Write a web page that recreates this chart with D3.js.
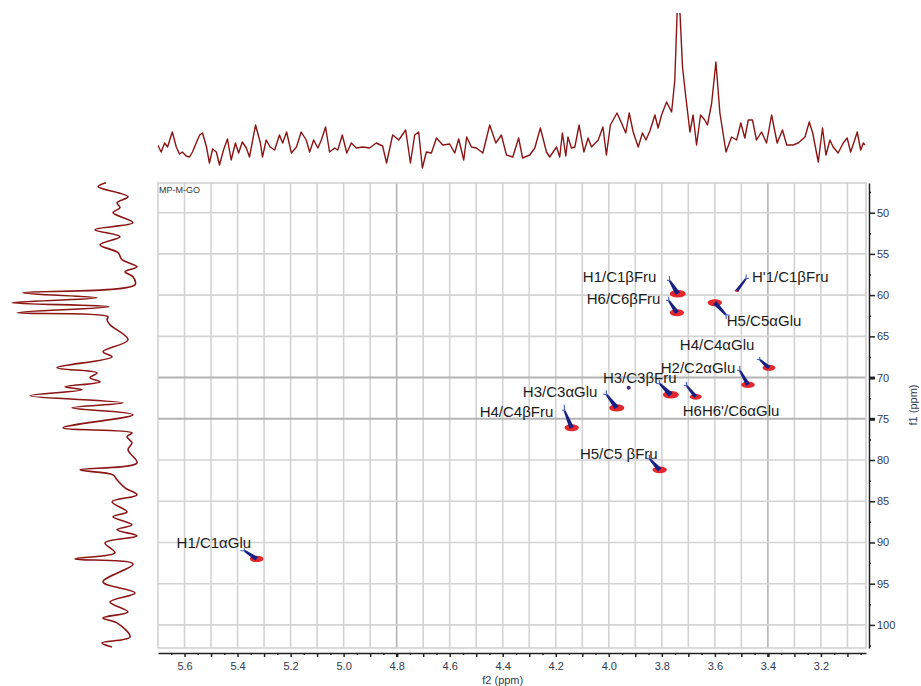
<!DOCTYPE html>
<html>
<head>
<meta charset="utf-8">
<script src="https://cdn.jsdelivr.net/npm/d3@7/dist/d3.min.js"></script>
<style>
  body { margin: 0; background: #fff; }
</style>
</head>
<body>
<div id="chart"></div>
<script>
// ---------------------------------------------------------------------------
// DATA
// ---------------------------------------------------------------------------
const sampleName = 'MP-M-GO';

const f2Labels = [5.6, 5.4, 5.2, 5.0, 4.8, 4.6, 4.4, 4.2, 4.0, 3.8, 3.6, 3.4, 3.2];
const f1Labels = [50, 55, 60, 65, 70, 75, 80, 85, 90, 95, 100];

// 1H projection (top trace): chemical shift (ppm) / intensity
const topPpm = [5.701,5.688,5.675,5.664,5.646,5.631,5.619,5.608,5.594,5.581,5.570,5.556,5.543,5.532,5.517,5.506,5.494,5.480,5.468,5.453,
  5.438,5.424,5.408,5.396,5.382,5.367,5.355,5.332,5.314,5.306,5.292,5.277,5.260,5.242,5.230,5.215,5.197,5.178,5.160,5.141,
  5.128,5.113,5.097,5.084,5.068,5.053,5.034,5.022,5.005,4.988,4.971,4.952,4.928,4.902,4.877,4.853,4.838,4.815,4.792,4.766,
  4.748,4.732,4.717,4.703,4.688,4.669,4.650,4.626,4.600,4.581,4.566,4.547,4.536,4.518,4.499,4.475,4.449,4.426,4.405,4.386,
  4.362,4.340,4.325,4.298,4.279,4.258,4.235,
  4.223,4.197,4.185,4.175,4.162,4.154,4.141,4.128,4.112,4.094,4.078,4.065,4.040,4.022,4.009,3.994,3.969,3.952,3.936,3.923,
  3.908,3.889,3.873,3.860,3.845,3.826,3.814,3.801,3.782,3.763,3.751,3.742,3.732,3.722,3.709,3.694,3.682,3.669,3.654,3.638,
  3.628,3.612,3.596,3.581,3.558,3.537,3.518,3.502,3.487,3.474,3.458,3.443,3.424,3.405,3.386,3.365,3.345,3.329,3.305,3.286,
  3.260,3.244,3.231,3.210,3.194,3.181,3.166,3.154,3.135,3.116,3.101,3.088,3.075,3.063,3.050,3.040,3.034];
const topInt = [5,-2,7,3,18,3,-4,-2,-6,-7,-2,7,15,17,3,-13,1,-2,-15,0,
  11,-10,7,-3,8,2,-7,25,7,-7,10,3,0,15,7,18,-3,3,18,10,
  -2,10,2,10,23,-2,2,0,15,-3,7,2,3,2,7,4,-13,15,10,20,
  -13,15,18,-18,-2,-3,12,5,6,-3,11,-10,13,3,2,-3,25,7,15,-5,
  -7,12,-8,-5,2,22,-2,
  -7,3,-7,17,-6,13,2,3,25,-2,12,3,10,23,-5,25,37,27,17,37,
  18,3,17,10,19,35,22,35,48,38,70,140,140,83,52,18,35,5,35,30,
  25,47,88,37,-2,13,10,27,12,30,30,10,18,7,35,7,20,5,5,7,
  13,28,17,-12,22,-5,10,3,-3,7,12,-2,8,18,0,7,5];

// 13C projection (left trace): chemical shift (ppm) / intensity
const leftPpm = [46.36,46.84,48.06,48.79,49.39,50.00,51.21,52.06,52.91,53.88,54.85,55.70,56.55,57.16,57.77,58.74,
  59.71,60.32,60.92,61.41,62.14,62.62,62.99,63.59,65.41,66.87,67.48,68.81,69.42,70.02,70.51,71.12,71.48,72.21,
  73.06,73.67,74.51,76.09,76.70,77.18,77.91,78.76,80.34,81.19,81.80,82.40,83.37,84.22,85.07,86.29,86.89,87.86,
  88.47,89.20,90.05,91.26,91.99,92.60,94.78,96.12,97.21,98.42,99.15,99.76,101.46,102.18,102.67];
const leftInt = [31,39,9,20,17,24,4,42,17,37,19,15,0,12,4,2,
  114,40,125,28,120,29,30,27,9,34,25,80,40,47,37,72,55,107,
  14,65,4,74,5,10,5,9,0,57,24,20,12,0,25,10,24,5,
  20,0,32,22,62,4,34,2,27,9,34,20,7,35,25];

// HSQC cross peaks: 1H shift, 13C shift, relative volume
const peakH   = [3.740, 3.743, 3.517, 3.600, 3.396, 3.475, 3.766, 3.672, 3.925, 3.970, 4.140, 3.808, 5.328];
const peakC   = [59.83, 62.14, 59.47, 60.92, 68.81, 70.87, 72.09, 72.33, 71.24, 73.67, 76.09, 81.19, 91.99];
const peakVol = [1.0,   0.9,   0.3,   0.9,   0.8,   0.85,  1.0,   0.75,  0.25,  0.95,  0.9,   0.9,   0.85];

// assignments, placed at (1H, 13C) of the text start
const labelText = ['H1/C1βFru', "H'1/C1βFru", 'H6/C6βFru', 'H5/C5αGlu', 'H4/C4αGlu', 'H2/C2αGlu',
  'H3/C3βFru', 'H3/C3αGlu', "H6H6'/C6αGlu", 'H4/C4βFru', 'H5/C5 βFru', 'H1/C1αGlu'];
const labelH = [4.098, 3.460, 4.083, 3.555, 3.732, 3.804, 4.022, 4.324, 3.721, 4.487, 4.109, 5.630];
const labelC = [58.40, 58.40, 61.10, 63.70, 66.70, 69.45, 70.60, 72.30, 74.70, 74.75, 79.85, 90.70];

// ---------------------------------------------------------------------------
// LAYOUT / STYLE
// ---------------------------------------------------------------------------
const svgWidth = 921, svgHeight = 686;
const plot = { left: 158, right: 866, top: 183, bottom: 648 };
const axisColor = '#2f3a4f';
const gridColor = '#d3d3d3';
const cursorColor = '#b4b4b4';
const traceColor = '#8b1414';
const redColor = '#e3161b';
const blueColor = '#172083';

// blue contour tails (px vector from peak centre)
const tailVec = [[-8,-13],[-8,-12],[9,-12],[11,12],[-9,-8],[-8,-14],[-11,-11],[-9,-11],[0,0],[-10,-13],[-7,-17],[-10,-11],[-12,-8]];

const svg = d3.select('#chart').append('svg')
  .attr('width', svgWidth)
  .attr('height', svgHeight)
  .style('font-family', '"Liberation Sans", Arial, sans-serif');

const xScale = d3.scaleLinear().domain([5.70, 3.03]).range([plot.left, plot.right]);
const yScale = d3.scaleLinear().domain([46.4, 102.8]).range([plot.top, plot.bottom]);
const topScale = d3.scaleLinear().domain([0, 137]).range([150, 13]);
const leftScale = d3.scaleLinear().domain([0, 125]).range([137, 12]);

// ---------------------------------------------------------------------------
// GRID
// ---------------------------------------------------------------------------
const gridX = d3.range(56, 30, -1).map(d => d / 10);
const gridY = f1Labels;
const isCursorX = d => Math.abs(d - 4.8) < 1e-6 || Math.abs(d - 3.4) < 1e-6;
const isCursorY = d => d === 70 || d === 75;

const grid = svg.append('g').attr('class', 'grid');
grid.selectAll('.gx').data(gridX).enter().append('line')
  .attr('x1', d => xScale(d)).attr('x2', d => xScale(d))
  .attr('y1', plot.top).attr('y2', plot.bottom)
  .attr('stroke', d => isCursorX(d) ? cursorColor : gridColor)
  .attr('stroke-width', 1.6);
grid.selectAll('.gy').data(gridY).enter().append('line')
  .attr('x1', plot.left).attr('x2', plot.right)
  .attr('y1', d => yScale(d)).attr('y2', d => yScale(d))
  .attr('stroke', d => isCursorY(d) ? cursorColor : gridColor)
  .attr('stroke-width', d => isCursorY(d) ? 2 : 1.6);

svg.append('rect')
  .attr('x', plot.left).attr('y', plot.top)
  .attr('width', plot.right - plot.left).attr('height', plot.bottom - plot.top)
  .attr('fill', 'none').attr('stroke', '#cfcfcf').attr('stroke-width', 1.5);

svg.append('text')
  .attr('x', plot.left + 1).attr('y', plot.top + 10)
  .attr('font-size', 9).attr('fill', '#333')
  .text(sampleName);

// ---------------------------------------------------------------------------
// AXES
// ---------------------------------------------------------------------------
const fmtX = d => f2Labels.some(v => Math.abs(v - d) < 1e-6) ? d.toFixed(1) : '';
const xAxisG = svg.append('g').attr('transform', `translate(0,${plot.bottom + 5})`);
xAxisG.call(d3.axisBottom(xScale).tickValues(gridX).tickSize(4).tickSizeOuter(0).tickFormat(fmtX));
const xMinor = svg.append('g').attr('transform', `translate(0,${plot.bottom + 5})`);
xMinor.call(d3.axisBottom(xScale).tickValues(d3.range(565, 300, -10).map(d => d / 100)).tickSize(2).tickFormat(''));
xMinor.select('.domain').remove();

const yAxisG = svg.append('g').attr('transform', `translate(${plot.right + 3},0)`);
yAxisG.call(d3.axisRight(yScale).tickValues(gridY).tickSize(6).tickSizeOuter(0).tickFormat(d3.format('d')));
const yMinor = svg.append('g').attr('transform', `translate(${plot.right + 3},0)`);
yMinor.call(d3.axisRight(yScale).tickValues(d3.range(47.5, 103, 5)).tickSize(2).tickFormat(''));
yMinor.select('.domain').remove();

[xAxisG, yAxisG, xMinor, yMinor].forEach(g => {
  g.selectAll('.domain').attr('stroke', '#222').attr('stroke-width', 1.5);
  g.selectAll('.tick line').attr('stroke', '#222').attr('stroke-width', 1.5);
  g.selectAll('.tick text').attr('fill', axisColor).attr('font-size', 11)
    .attr('font-family', '"Liberation Sans", Arial, sans-serif');
});
xAxisG.selectAll('.tick text').attr('dy', '0.95em');
yAxisG.selectAll('.tick text').attr('x', 8);
xAxisG.selectAll('.tick line').filter(isCursorX).attr('stroke-width', 2.5);
yAxisG.selectAll('.tick line').filter(isCursorY).attr('stroke-width', 3);

svg.append('text')
  .attr('x', xScale(4.4)).attr('y', 684)
  .attr('text-anchor', 'middle').attr('font-size', 11).attr('fill', axisColor)
  .text('f2 (ppm)');
svg.append('text')
  .attr('transform', `translate(917,405) rotate(-90)`)
  .attr('text-anchor', 'middle').attr('font-size', 11).attr('fill', axisColor)
  .text('f1 (ppm)');

// ---------------------------------------------------------------------------
// 1D PROJECTIONS
// ---------------------------------------------------------------------------
svg.append('clipPath').attr('id', 'topClip')
  .append('rect').attr('x', plot.left).attr('y', 13).attr('width', plot.right - plot.left).attr('height', 160);

const topLine = d3.line()
  .x(i => xScale(topPpm[i]))
  .y(i => topScale(topInt[i]));
svg.append('path')
  .attr('clip-path', 'url(#topClip)')
  .attr('d', topLine(d3.range(topPpm.length)))
  .attr('fill', 'none').attr('stroke', traceColor).attr('stroke-width', 1.4)
  .attr('stroke-linejoin', 'round');

const leftLine = d3.line()
  .x(i => leftScale(leftInt[i]))
  .y(i => yScale(leftPpm[i]))
  .curve(d3.curveCatmullRom.alpha(0.5));
svg.append('path')
  .attr('d', leftLine(d3.range(leftPpm.length)))
  .attr('fill', 'none').attr('stroke', traceColor).attr('stroke-width', 1.6)
  .attr('stroke-linejoin', 'round');

// ---------------------------------------------------------------------------
// CROSS PEAKS
// ---------------------------------------------------------------------------
const peaks = svg.append('g').attr('class', 'peaks');
const peakIdx = d3.range(peakH.length);

peaks.selectAll('.blob').data(peakIdx.filter(i => peakVol[i] > 0.28)).enter().append('ellipse')
  .attr('cx', i => xScale(peakH[i]))
  .attr('cy', i => yScale(peakC[i]))
  .attr('rx', i => 8 * peakVol[i])
  .attr('ry', i => 3.8 * peakVol[i])
  .attr('fill', redColor)
  .attr('opacity', 0.92);

peaks.selectAll('.tail').data(peakIdx).enter().append('path')
  .attr('d', i => {
    const cx = xScale(peakH[i]), cy = yScale(peakC[i]);
    const [dx, dy] = tailVec[i];
    const len = Math.hypot(dx, dy);
    if (len === 0) return `M${cx - 2},${cy}a2,2 0 1,0 4,0a2,2 0 1,0 -4,0`;
    const nx = -dy / len, ny = dx / len;
    const w = 2.6 * Math.max(peakVol[i], 0.6);
    const ex = cx + dx, ey = cy + dy;
    return `M${cx + nx * w},${cy + ny * w}L${ex + nx},${ey + ny}` +
      `L${ex - nx},${ey - ny}L${cx - nx * w},${cy - ny * w}Z`;
  })
  .attr('fill', i => tailVec[i][0] === 0 ? '#4a2a8a' : blueColor);

peaks.selectAll('.fork').data(peakIdx.filter(i => tailVec[i][0] !== 0)).enter().append('path')
  .attr('d', i => {
    const cx = xScale(peakH[i]), cy = yScale(peakC[i]);
    const [dx, dy] = tailVec[i];
    const ex = cx + dx, ey = cy + dy;
    return `M${ex},${ey}l${dx * 0.05},${dy * 0.35}M${ex},${ey}l${dx * 0.35},${dy * 0.05}`;
  })
  .attr('stroke', '#4a63c8').attr('stroke-width', 1.2).attr('fill', 'none');

// ---------------------------------------------------------------------------
// LABELS
// ---------------------------------------------------------------------------
svg.append('g').selectAll('text').data(labelText).enter().append('text')
  .attr('x', (d, i) => xScale(labelH[i]))
  .attr('y', (d, i) => yScale(labelC[i]))
  .attr('font-size', 15)
  .attr('fill', '#1b1b1b')
  .text(d => d);
</script>
</body>
</html>
